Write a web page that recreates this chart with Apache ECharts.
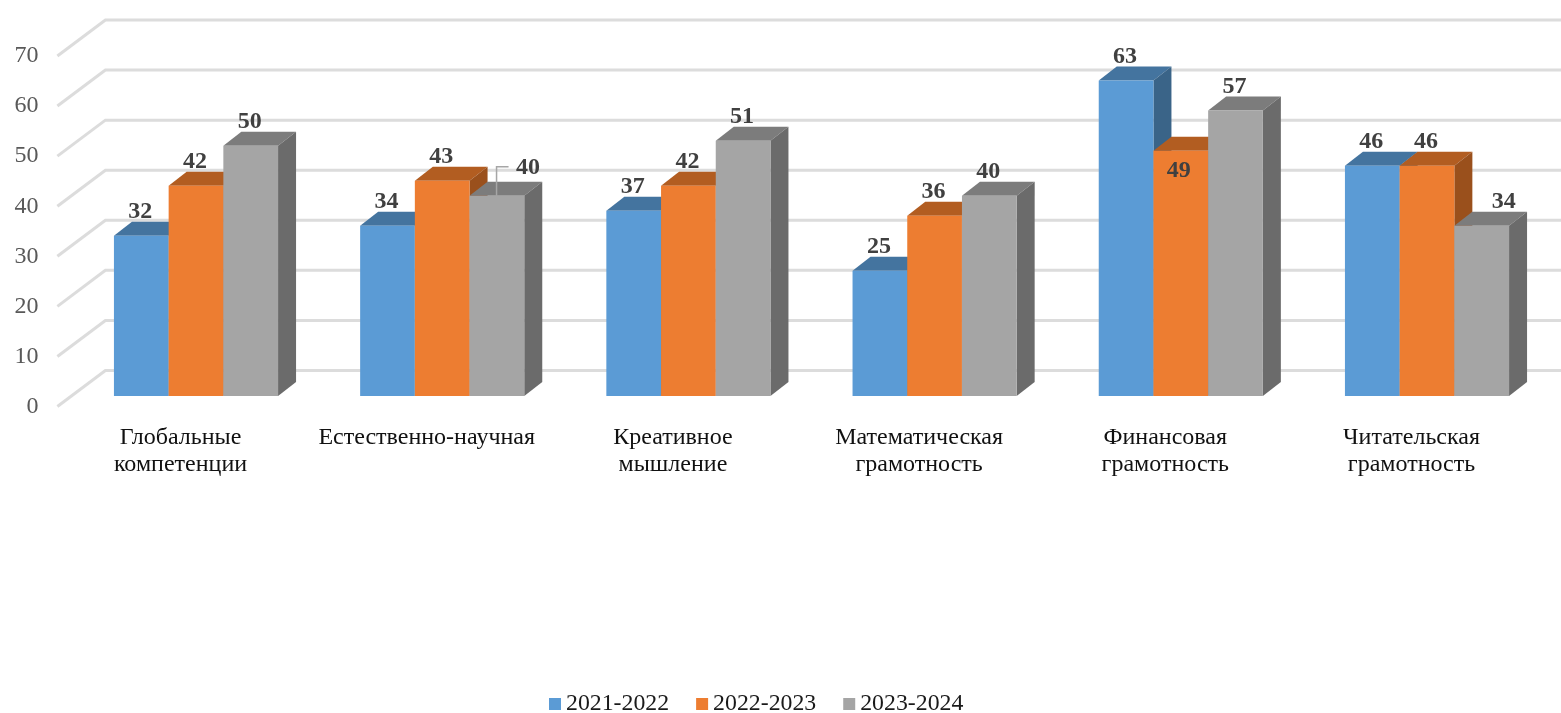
<!DOCTYPE html>
<html lang="ru">
<head>
    <meta charset="UTF-8">
    <title>Chart</title>
    <script src="https://cdn.jsdelivr.net/npm/echarts@6/dist/echarts.min.js"></script>
    <style>html,body{margin:0;padding:0;background:#fff}</style>
</head>
<body>
 <div id="myChart" style="width:1561px;height:713px;"></div>
 <script>
     var categories = ['Глобальные\nкомпетенции', 'Естественно-научная', 'Креативное\nмышление', 'Математическая\nграмотность', 'Финансовая\nграмотность', 'Читательская\nграмотность'];
     var years = ['2021-2022', '2022-2023', '2023-2024'];
     var values2021 = [32, 34, 37, 25, 63, 46];
     var values2022 = [42, 43, 42, 36, 49, 46];
     var values2023 = [50, 40, 51, 40, 57, 34];
     var gridTicks = [0, 10, 20, 30, 40, 50, 60, 70];

     var FONT = '"Liberation Serif", "Times New Roman", serif';
     // сдвиг столбцов от передней плоскости осей (псевдо-3D)
     var BAR_DX = 15.5, BAR_DY = -10.5, SIDE_DX = 18, SIDE_DY = -14;
     var WALL_DX = 48, WALL_DY = -36;

     function poly(points, color, z2) {
         return {type: 'polygon', shape: {points: points}, style: {fill: color}, z2: z2};
     }

     function barSeries(name, values, colors, pos) {
         return {
             name: name,
             type: 'custom',
             coordinateSystem: 'cartesian2d',
             encode: {x: 0, y: 1},
             itemStyle: {color: colors.front},
             data: values.map(function (v, i) { return [i, v]; }),
             renderItem: function (params, api) {
                 var cat = api.value(0), val = api.value(1);
                 var top = api.coord([cat, val]);
                 var base = api.coord([cat, 0]);
                 var w = api.size([1, 0])[0] * 0.2222;
                 var x0 = top[0] + BAR_DX + (pos - 1.5) * w;
                 var x1 = x0 + w;
                 var yTop = top[1] + BAR_DY;
                 var yBase = base[1] + BAR_DY;
                 // рисуем слева направо: следующий столбец перекрывает бок предыдущего
                 var z = pos * 10;
                 var children = [
                     poly([[x0, yTop], [x0 + SIDE_DX, yTop + SIDE_DY], [x1 + SIDE_DX, yTop + SIDE_DY], [x1, yTop]], colors.top, z + 1),
                     poly([[x1, yTop], [x1 + SIDE_DX, yTop + SIDE_DY], [x1 + SIDE_DX, yBase + SIDE_DY], [x1, yBase]], colors.side, z + 2),
                     poly([[x0, yTop], [x1, yTop], [x1, yBase], [x0, yBase]], colors.front, z + 3)
                 ];
                 var lx = x0 + w / 2 - 1, ly = yTop - 24;
                 if (pos === 1 && cat === 4) { // подпись внутри столбца
                     lx -= 1; ly = yTop + 20;
                 }
                 if (pos === 2 && cat === 5) { // подпись сдвинута вправо
                     lx += 23;
                 }
                 if (pos === 2 && cat === 1) { // подпись с выноской
                     lx += 32; ly = yTop - 27.5;
                     children.push({
                         type: 'polyline',
                         shape: {points: [[x0 + 27, yTop], [x0 + 27, yTop - 29], [x0 + 39, yTop - 29]]},
                         style: {stroke: '#a6a6a6', lineWidth: 1.5, fill: null},
                         z2: 50
                     });
                 }
                 children.push({
                     type: 'text',
                     z2: 60,
                     style: {
                         x: lx, y: ly, text: String(val),
                         fill: '#404040', font: 'bold 24px ' + FONT,
                         align: 'center', verticalAlign: 'middle'
                     }
                 });
                 return {type: 'group', children: children};
             }
         };
     }

     var wallSeries = {
         type: 'custom',
         coordinateSystem: 'cartesian2d',
         encode: {y: 1},
         silent: true,
         z: 1,
         data: gridTicks.map(function (t) { return [0, t]; }),
         renderItem: function (params, api) {
             var y = api.coord([0, api.value(1)])[1];
             var x = params.coordSys.x;
             return {
                 type: 'polyline',
                 shape: {points: [[x, y], [x + WALL_DX, y + WALL_DY], [1561, y + WALL_DY]]},
                 style: {stroke: '#dcdcdc', lineWidth: 3, fill: null}
             };
         }
     };

     var option = {
         animation: false,
         backgroundColor: '#fff',
         grid: {left: 57.4, top: 56, width: 1477.2, height: 350.5},
         legend: {
             data: years,
             left: 544, top: 687,
             icon: 'rect',
             itemWidth: 12, itemHeight: 12, itemGap: 27,
             textStyle: {fontFamily: FONT, fontSize: 23.8, color: '#1a1a1a'}
         },
         xAxis: {
             type: 'category',
             data: categories,
             axisLine: {show: false},
             axisTick: {show: false},
             axisLabel: {fontFamily: FONT, fontSize: 24, color: '#111', lineHeight: 27, margin: 18, interval: 0}
         },
         yAxis: {
             type: 'value',
             min: 0, max: 70, interval: 10,
             axisLine: {show: false},
             axisTick: {show: false},
             splitLine: {show: false},
             axisLabel: {fontFamily: FONT, fontSize: 24, color: '#595959', margin: 19}
         },
         series: [
             wallSeries,
             barSeries(years[0], values2021, {front: '#5b9bd5', top: '#44749f', side: '#3a6488'}, 0),
             barSeries(years[1], values2022, {front: '#ed7d31', top: '#b25d21', side: '#9a501c'}, 1),
             barSeries(years[2], values2023, {front: '#a5a5a5', top: '#7c7c7c', side: '#6b6b6b'}, 2)
         ]
     };

     var myChart = echarts.init(document.getElementById('myChart'));
     myChart.setOption(option);
 </script>
</body>
</html>
